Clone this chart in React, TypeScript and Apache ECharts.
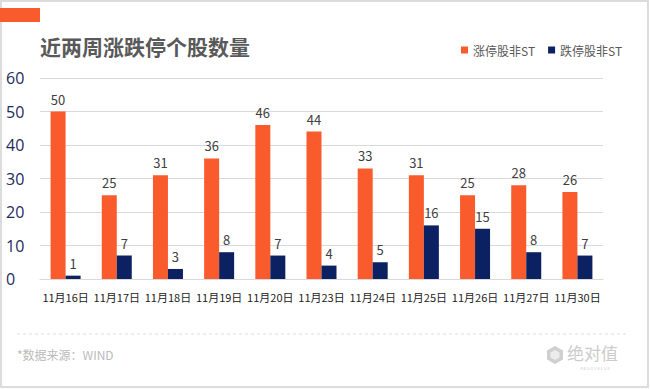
import React, { useEffect, useRef } from "react";
import * as echarts from "echarts";

const categories = ["11月16日", "11月17日", "11月18日", "11月19日", "11月20日", "11月23日", "11月24日", "11月25日", "11月26日", "11月27日", "11月30日"];
const limitUp = [50, 25, 31, 36, 46, 44, 33, 31, 25, 28, 26];
const limitDown = [1, 7, 3, 8, 7, 4, 5, 16, 15, 8, 7];
const seriesNames = ["涨停股非ST", "跌停股非ST"];
const title = "近两周涨跌停个股数量";
const source = "*数据来源：WIND";

const ORANGE = "#F95B2D";
const NAVY = "#0C2161";
const FONT = '"Microsoft YaHei", "Noto Sans CJK SC", sans-serif';

export default function App() {
  const ref = useRef<HTMLDivElement>(null);
  useEffect(() => {
    document.body.style.margin = "0";
    const chart = echarts.init(ref.current!, null, { renderer: "svg" });
    chart.setOption({
      animation: false,
      backgroundColor: "#ffffff",
      textStyle: { fontFamily: FONT },
      grid: { left: 40, right: 47, top: 78, bottom: 110, containLabel: false },
      legend: {
        data: seriesNames,
        left: 456,
        top: 39,
        icon: "rect",
        itemWidth: 7,
        itemHeight: 7,
        itemGap: 13,
        textStyle: { fontSize: 12, color: "#595959", fontFamily: FONT },
      },
      xAxis: {
        type: "category",
        data: categories,
        axisLine: { show: true, lineStyle: { color: "#d9d9d9", width: 1 } },
        axisTick: { show: false },
        axisLabel: { fontSize: 11, color: "#222222", margin: 12, interval: 0, fontFamily: FONT },
      },
      yAxis: {
        type: "value",
        min: 0,
        max: 60,
        interval: 10,
        axisLine: { show: false },
        axisTick: { show: false },
        splitLine: { lineStyle: { color: "#d9d9d9", width: 1 } },
        axisLabel: { fontSize: 16, color: "#1e2a5e", align: "left", margin: 34, fontFamily: '"Open Sans", sans-serif' },
      },
      series: [
        {
          name: seriesNames[0],
          type: "bar",
          data: limitUp,
          barWidth: 15,
          barGap: "0%",
          itemStyle: { color: ORANGE },
          label: { show: true, position: "top", distance: 6, fontSize: 13, color: "#404040", fontFamily: FONT },
        },
        {
          name: seriesNames[1],
          type: "bar",
          data: limitDown,
          barWidth: 15,
          itemStyle: { color: NAVY },
          label: { show: true, position: "top", distance: 6, fontSize: 13, color: "#404040", fontFamily: FONT },
        },
      ],
      graphic: [
        {
          type: "rect",
          shape: { x: 1, y: 1, width: 647, height: 386 },
          style: { fill: "none", stroke: "#dcdcdc", lineWidth: 2 },
          z: 0,
          silent: true,
        },
        {
          type: "rect",
          shape: { x: 0, y: 8, width: 40, height: 14 },
          style: { fill: ORANGE },
        },
        {
          type: "text",
          x: 40,
          y: 46,
          style: { text: title, fontSize: 21, fontWeight: "bold", fill: "#595959", fontFamily: FONT, verticalAlign: "middle", align: "left" },
        },
        {
          type: "line",
          shape: { x1: 17, y1: 334, x2: 626, y2: 334 },
          style: { stroke: "#dddddd", lineWidth: 1, lineDash: [3, 3] },
        },
        {
          type: "text",
          x: 17,
          y: 354,
          style: { text: source, fontSize: 12, fill: "#bbbbbb", fontFamily: FONT, verticalAlign: "middle" },
        },
        {
          type: "polygon",
          shape: { points: [[555, 346], [563, 350.5], [563, 359.5], [555, 364], [547, 359.5], [547, 350.5]] },
          style: { fill: "#cfcfcf" },
        },
        {
          type: "polygon",
          shape: { points: [[555, 350], [559.5, 352.5], [559.5, 357.5], [555, 360], [550.5, 357.5], [550.5, 352.5]] },
          style: { fill: "#ececec" },
        },
        {
          type: "text",
          x: 567,
          y: 352,
          style: { text: "绝对值", fontSize: 17, fill: "#cccccc", fontFamily: FONT, verticalAlign: "middle" },
        },
        {
          type: "text",
          x: 595,
          y: 368,
          style: { text: "A B S O V A L U E", fontSize: 4, fill: "#cccccc", fontFamily: FONT, verticalAlign: "middle", align: "center" },
        },
      ],
    });
    return () => chart.dispose();
  }, []);
  return <div ref={ref} style={{ width: 650, height: 389 }} />;
}
